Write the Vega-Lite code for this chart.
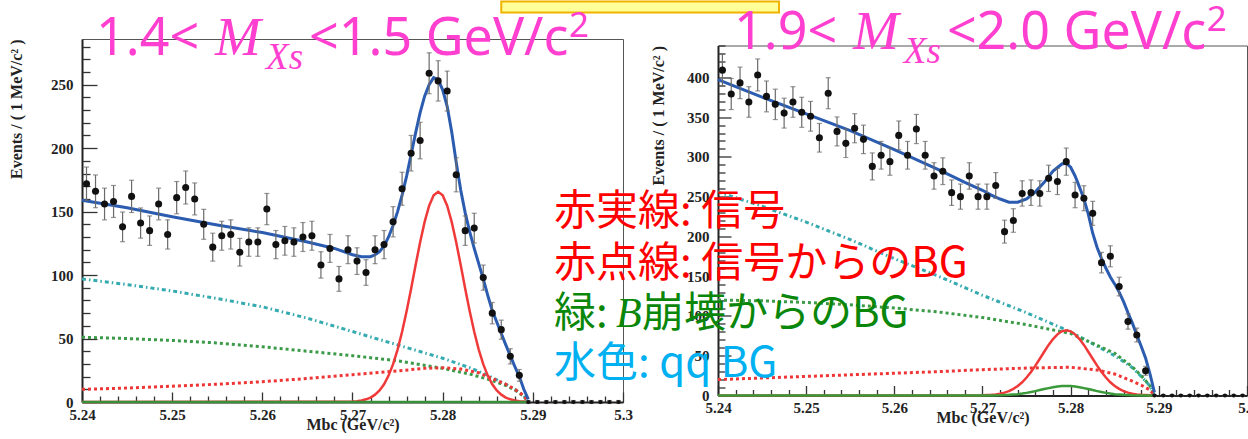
{
"$schema": "https://vega.github.io/schema/vega-lite/v6.json",
"background": "white",
"padding": {"left": 8, "top": 0, "right": 0, "bottom": 0},
"autosize": {"type": "pad"},
"config": {"axis": {"grid": false, "labelOverlap": false}, "view": {"stroke": "#555", "strokeWidth": 1}},
"datasets": {
"LP": [
{"x":5.2405,"v":172,"e":13.1},{"x":5.2415,"v":166,"e":12.9},{"x":5.2425,"v":156,"e":12.5},{"x":5.2435,"v":158,"e":12.6},{"x":5.2445,"v":138,"e":11.7},
{"x":5.2455,"v":162,"e":12.7},{"x":5.2465,"v":141,"e":11.9},{"x":5.2475,"v":135,"e":11.6},{"x":5.2485,"v":156,"e":12.5},{"x":5.2495,"v":132,"e":11.5},
{"x":5.2505,"v":161,"e":12.7},{"x":5.2515,"v":169,"e":13},{"x":5.2525,"v":160,"e":12.6},{"x":5.2535,"v":140,"e":11.8},{"x":5.2545,"v":122,"e":11},
{"x":5.2555,"v":131,"e":11.4},{"x":5.2565,"v":132,"e":11.5},{"x":5.2575,"v":118,"e":10.9},{"x":5.2585,"v":126,"e":11.2},{"x":5.2595,"v":126,"e":11.2},
{"x":5.2605,"v":152,"e":12.3},{"x":5.2615,"v":124,"e":11.1},{"x":5.2625,"v":127,"e":11.3},{"x":5.2635,"v":126,"e":11.2},{"x":5.2645,"v":130,"e":11.4},
{"x":5.2655,"v":131,"e":11.4},{"x":5.2665,"v":108,"e":10.4},{"x":5.2675,"v":121,"e":11},{"x":5.2685,"v":97,"e":9.8},{"x":5.2695,"v":120,"e":11},
{"x":5.2705,"v":111,"e":10.5},{"x":5.2715,"v":102,"e":10.1},{"x":5.2725,"v":120,"e":11},{"x":5.2735,"v":124,"e":11.1},{"x":5.2745,"v":142,"e":11.9},
{"x":5.2755,"v":168,"e":13},{"x":5.2765,"v":196,"e":14},{"x":5.2775,"v":206,"e":14.4},{"x":5.2785,"v":259,"e":16.1},{"x":5.2795,"v":253,"e":15.9},
{"x":5.2805,"v":245,"e":15.7},{"x":5.2815,"v":179,"e":13.4},{"x":5.2825,"v":135,"e":11.6},{"x":5.2835,"v":137,"e":11.7},{"x":5.2845,"v":98,"e":9.9},
{"x":5.2855,"v":70,"e":8.4},{"x":5.2865,"v":57,"e":7.5},{"x":5.2875,"v":36,"e":6},{"x":5.2885,"v":21,"e":4.6},{"x":5.2895,"v":0,"e":1.15},
{"x":5.2905,"v":0,"e":1.15},{"x":5.2915,"v":0,"e":1.15},{"x":5.2925,"v":0,"e":1.15},{"x":5.2935,"v":0,"e":1.15},{"x":5.2945,"v":0,"e":1.15},
{"x":5.2955,"v":0,"e":1.15},{"x":5.2965,"v":0,"e":1.15},{"x":5.2975,"v":0,"e":1.15},{"x":5.2985,"v":0,"e":1.15},{"x":5.2995,"v":0,"e":1.15}
],
"RP": [
{"x":5.2405,"v":409,"e":20.2},{"x":5.2415,"v":379,"e":19.5},{"x":5.2425,"v":393,"e":19.8},{"x":5.2435,"v":369,"e":19.2},{"x":5.2445,"v":403,"e":20.1},
{"x":5.2455,"v":376,"e":19.4},{"x":5.2465,"v":366,"e":19.1},{"x":5.2475,"v":355,"e":18.8},{"x":5.2485,"v":369,"e":19.2},{"x":5.2495,"v":356,"e":18.9},
{"x":5.2505,"v":351,"e":18.7},{"x":5.2515,"v":324,"e":18},{"x":5.2525,"v":380,"e":19.5},{"x":5.2535,"v":332,"e":18.2},{"x":5.2545,"v":317,"e":17.8},
{"x":5.2555,"v":336,"e":18.3},{"x":5.2565,"v":322,"e":17.9},{"x":5.2575,"v":288,"e":17},{"x":5.2585,"v":302,"e":17.4},{"x":5.2595,"v":294,"e":17.1},
{"x":5.2605,"v":327,"e":18.1},{"x":5.2615,"v":302,"e":17.4},{"x":5.2625,"v":335,"e":18.3},{"x":5.2635,"v":302,"e":17.4},{"x":5.2645,"v":276,"e":16.6},
{"x":5.2655,"v":282,"e":16.8},{"x":5.2665,"v":255,"e":16},{"x":5.2675,"v":250,"e":15.8},{"x":5.2685,"v":276,"e":16.6},{"x":5.2695,"v":250,"e":15.8},
{"x":5.2705,"v":250,"e":15.8},{"x":5.2715,"v":264,"e":16.2},{"x":5.2725,"v":206,"e":14.4},{"x":5.2735,"v":220,"e":14.8},{"x":5.2745,"v":254,"e":15.9},
{"x":5.2755,"v":255,"e":16},{"x":5.2765,"v":254,"e":15.9},{"x":5.2775,"v":273,"e":16.5},{"x":5.2785,"v":269,"e":16.4},{"x":5.2795,"v":294,"e":17.1},
{"x":5.2805,"v":252,"e":15.9},{"x":5.2815,"v":248,"e":15.7},{"x":5.2825,"v":229,"e":15.1},{"x":5.2835,"v":167,"e":12.9},{"x":5.2845,"v":175,"e":13.2},
{"x":5.2855,"v":137,"e":11.7},{"x":5.2865,"v":93,"e":9.6},{"x":5.2875,"v":76,"e":8.7},{"x":5.2885,"v":31,"e":5.6},{"x":5.2895,"v":0,"e":1.15},
{"x":5.2905,"v":0,"e":1.15},{"x":5.2915,"v":0,"e":1.15},{"x":5.2925,"v":0,"e":1.15},{"x":5.2935,"v":0,"e":1.15},{"x":5.2945,"v":0,"e":1.15},
{"x":5.2955,"v":0,"e":1.15},{"x":5.2965,"v":0,"e":1.15},{"x":5.2975,"v":0,"e":1.15},{"x":5.2985,"v":0,"e":1.15},{"x":5.2995,"v":0,"e":1.15}
],
"LC": [
{"c":"cy","x":5.24,"v":97},{"c":"cy","x":5.245,"v":92.5},{"c":"cy","x":5.25,"v":87.5},{"c":"cy","x":5.255,"v":81.5},{"c":"cy","x":5.26,"v":75},{"c":"cy","x":5.265,"v":66},{"c":"cy","x":5.27,"v":55.5},{"c":"cy","x":5.275,"v":45},{"c":"cy","x":5.28,"v":34.5},{"c":"cy","x":5.283,"v":27},{"c":"cy","x":5.285,"v":21},{"c":"cy","x":5.287,"v":14},{"c":"cy","x":5.288,"v":10},{"c":"cy","x":5.289,"v":5},{"c":"cy","x":5.2895,"v":0},
{"c":"gd","x":5.24,"v":51},{"c":"gd","x":5.245,"v":50},{"c":"gd","x":5.25,"v":48.5},{"c":"gd","x":5.255,"v":46.5},{"c":"gd","x":5.26,"v":43.5},{"c":"gd","x":5.265,"v":40},{"c":"gd","x":5.27,"v":36.5},{"c":"gd","x":5.275,"v":32.5},{"c":"gd","x":5.28,"v":26.5},{"c":"gd","x":5.283,"v":22},{"c":"gd","x":5.285,"v":18},{"c":"gd","x":5.287,"v":13},{"c":"gd","x":5.288,"v":9.5},{"c":"gd","x":5.289,"v":4.5},{"c":"gd","x":5.2895,"v":0},
{"c":"rd","x":5.24,"v":10},{"c":"rd","x":5.245,"v":11},{"c":"rd","x":5.25,"v":12.5},{"c":"rd","x":5.255,"v":14},{"c":"rd","x":5.26,"v":16},{"c":"rd","x":5.265,"v":18.5},{"c":"rd","x":5.27,"v":21.5},{"c":"rd","x":5.275,"v":24.5},{"c":"rd","x":5.278,"v":26.5},{"c":"rd","x":5.28,"v":27},{"c":"rd","x":5.282,"v":26},{"c":"rd","x":5.284,"v":23},{"c":"rd","x":5.286,"v":17},{"c":"rd","x":5.287,"v":14},{"c":"rd","x":5.288,"v":10},{"c":"rd","x":5.289,"v":5},{"c":"rd","x":5.2895,"v":0},
{"c":"sig","x":5.24,"v":0},{"c":"sig","x":5.2695,"v":0.2},{"c":"sig","x":5.27,"v":0.3},{"c":"sig","x":5.2705,"v":0.6},{"c":"sig","x":5.271,"v":1.2},{"c":"sig","x":5.2715,"v":2.1},{"c":"sig","x":5.272,"v":3.5},{"c":"sig","x":5.2725,"v":5.8},{"c":"sig","x":5.273,"v":9.1},{"c":"sig","x":5.2735,"v":14},{"c":"sig","x":5.274,"v":20.8},{"c":"sig","x":5.2745,"v":29.8},{"c":"sig","x":5.275,"v":41.3},{"c":"sig","x":5.2755,"v":55.3},{"c":"sig","x":5.276,"v":71.5},{"c":"sig","x":5.2765,"v":89.3},{"c":"sig","x":5.277,"v":107.9},{"c":"sig","x":5.2775,"v":125.9},{"c":"sig","x":5.278,"v":141.9},{"c":"sig","x":5.2785,"v":154.6},{"c":"sig","x":5.279,"v":162.8},{"c":"sig","x":5.2795,"v":165.6},{"c":"sig","x":5.28,"v":162.8},{"c":"sig","x":5.2805,"v":154.6},{"c":"sig","x":5.281,"v":141.9},{"c":"sig","x":5.2815,"v":125.9},{"c":"sig","x":5.282,"v":107.9},{"c":"sig","x":5.2825,"v":89.3},{"c":"sig","x":5.283,"v":71.5},{"c":"sig","x":5.2835,"v":55.3},{"c":"sig","x":5.284,"v":41.3},{"c":"sig","x":5.2845,"v":29.8},{"c":"sig","x":5.285,"v":20.8},{"c":"sig","x":5.2855,"v":14},{"c":"sig","x":5.286,"v":9.1},{"c":"sig","x":5.2865,"v":5.8},{"c":"sig","x":5.287,"v":3.5},{"c":"sig","x":5.2875,"v":2.1},{"c":"sig","x":5.288,"v":1.2},{"c":"sig","x":5.2885,"v":0.6},{"c":"sig","x":5.289,"v":0.3},{"c":"sig","x":5.2895,"v":0},
{"c":"gs","x":5.24,"v":0},{"c":"gs","x":5.2895,"v":0},
{"c":"tot","x":5.24,"v":159},{"c":"tot","x":5.245,"v":153},{"c":"tot","x":5.25,"v":146},{"c":"tot","x":5.255,"v":139.5},{"c":"tot","x":5.26,"v":133.5},{"c":"tot","x":5.265,"v":126},{"c":"tot","x":5.268,"v":121},{"c":"tot","x":5.27,"v":116},{"c":"tot","x":5.271,"v":114.5},{"c":"tot","x":5.272,"v":114.5},{"c":"tot","x":5.2725,"v":116},{"c":"tot","x":5.273,"v":118.5},{"c":"tot","x":5.2735,"v":123},{"c":"tot","x":5.274,"v":130},{"c":"tot","x":5.2745,"v":139},{"c":"tot","x":5.275,"v":150},{"c":"tot","x":5.2755,"v":163},{"c":"tot","x":5.276,"v":178},{"c":"tot","x":5.2765,"v":195},{"c":"tot","x":5.277,"v":212},{"c":"tot","x":5.2775,"v":228},{"c":"tot","x":5.278,"v":241},{"c":"tot","x":5.2785,"v":250},{"c":"tot","x":5.279,"v":255.5},{"c":"tot","x":5.2795,"v":254},{"c":"tot","x":5.28,"v":246},{"c":"tot","x":5.2805,"v":233},{"c":"tot","x":5.281,"v":213},{"c":"tot","x":5.2815,"v":189},{"c":"tot","x":5.282,"v":167},{"c":"tot","x":5.2825,"v":149},{"c":"tot","x":5.283,"v":134},{"c":"tot","x":5.2835,"v":121},{"c":"tot","x":5.284,"v":109},{"c":"tot","x":5.2845,"v":97},{"c":"tot","x":5.285,"v":84},{"c":"tot","x":5.2855,"v":72},{"c":"tot","x":5.286,"v":63},{"c":"tot","x":5.2865,"v":54},{"c":"tot","x":5.287,"v":45},{"c":"tot","x":5.2875,"v":36.5},{"c":"tot","x":5.288,"v":28},{"c":"tot","x":5.2885,"v":20},{"c":"tot","x":5.289,"v":10},{"c":"tot","x":5.2895,"v":2}
],
"RC": [
{"c":"cy","x":5.24,"v":256},{"c":"cy","x":5.245,"v":238},{"c":"cy","x":5.25,"v":218},{"c":"cy","x":5.255,"v":196},{"c":"cy","x":5.26,"v":172},{"c":"cy","x":5.265,"v":150},{"c":"cy","x":5.27,"v":126},{"c":"cy","x":5.275,"v":104},{"c":"cy","x":5.28,"v":80},{"c":"cy","x":5.283,"v":62},{"c":"cy","x":5.285,"v":50},{"c":"cy","x":5.287,"v":35},{"c":"cy","x":5.288,"v":24},{"c":"cy","x":5.289,"v":12},{"c":"cy","x":5.2895,"v":0},
{"c":"gd","x":5.24,"v":120},{"c":"gd","x":5.245,"v":119},{"c":"gd","x":5.25,"v":117},{"c":"gd","x":5.255,"v":114},{"c":"gd","x":5.26,"v":110},{"c":"gd","x":5.265,"v":105},{"c":"gd","x":5.27,"v":98},{"c":"gd","x":5.275,"v":89},{"c":"gd","x":5.28,"v":78},{"c":"gd","x":5.283,"v":63},{"c":"gd","x":5.285,"v":53},{"c":"gd","x":5.287,"v":36},{"c":"gd","x":5.288,"v":25},{"c":"gd","x":5.289,"v":12},{"c":"gd","x":5.2895,"v":0},
{"c":"rd","x":5.24,"v":20},{"c":"rd","x":5.245,"v":22},{"c":"rd","x":5.25,"v":24},{"c":"rd","x":5.255,"v":26},{"c":"rd","x":5.26,"v":28},{"c":"rd","x":5.265,"v":30},{"c":"rd","x":5.27,"v":32.5},{"c":"rd","x":5.275,"v":34.5},{"c":"rd","x":5.28,"v":35.5},{"c":"rd","x":5.283,"v":32},{"c":"rd","x":5.285,"v":27},{"c":"rd","x":5.287,"v":18},{"c":"rd","x":5.288,"v":13},{"c":"rd","x":5.289,"v":7},{"c":"rd","x":5.2895,"v":0},
{"c":"sig","x":5.24,"v":0},{"c":"sig","x":5.269,"v":0.1},{"c":"sig","x":5.27,"v":0.25},{"c":"sig","x":5.2705,"v":0.5},{"c":"sig","x":5.271,"v":0.8},{"c":"sig","x":5.2715,"v":1.4},{"c":"sig","x":5.272,"v":2.3},{"c":"sig","x":5.2725,"v":3.6},{"c":"sig","x":5.273,"v":5.5},{"c":"sig","x":5.2735,"v":8.3},{"c":"sig","x":5.274,"v":11.9},{"c":"sig","x":5.2745,"v":16.6},{"c":"sig","x":5.275,"v":22.6},{"c":"sig","x":5.2755,"v":29.5},{"c":"sig","x":5.276,"v":37.6},{"c":"sig","x":5.2765,"v":46.2},{"c":"sig","x":5.277,"v":55},{"c":"sig","x":5.2775,"v":63.6},{"c":"sig","x":5.278,"v":71},{"c":"sig","x":5.2785,"v":76.9},{"c":"sig","x":5.279,"v":80.7},{"c":"sig","x":5.2795,"v":82},{"c":"sig","x":5.28,"v":80.7},{"c":"sig","x":5.2805,"v":76.9},{"c":"sig","x":5.281,"v":71},{"c":"sig","x":5.2815,"v":63.6},{"c":"sig","x":5.282,"v":55},{"c":"sig","x":5.2825,"v":46.2},{"c":"sig","x":5.283,"v":37.6},{"c":"sig","x":5.2835,"v":29.5},{"c":"sig","x":5.284,"v":22.6},{"c":"sig","x":5.2845,"v":16.6},{"c":"sig","x":5.285,"v":11.9},{"c":"sig","x":5.2855,"v":8.3},{"c":"sig","x":5.286,"v":5.5},{"c":"sig","x":5.2865,"v":3.6},{"c":"sig","x":5.287,"v":2.3},{"c":"sig","x":5.2875,"v":1.4},{"c":"sig","x":5.288,"v":0.8},{"c":"sig","x":5.2885,"v":0.5},{"c":"sig","x":5.289,"v":0.25},{"c":"sig","x":5.2895,"v":0},
{"c":"gs","x":5.24,"v":0},{"c":"gs","x":5.271,"v":0.1},{"c":"gs","x":5.272,"v":0.3},{"c":"gs","x":5.273,"v":0.8},{"c":"gs","x":5.274,"v":1.7},{"c":"gs","x":5.2745,"v":2.4},{"c":"gs","x":5.275,"v":3.3},{"c":"gs","x":5.2755,"v":4.3},{"c":"gs","x":5.276,"v":5.5},{"c":"gs","x":5.2765,"v":6.8},{"c":"gs","x":5.277,"v":8.1},{"c":"gs","x":5.2775,"v":9.3},{"c":"gs","x":5.278,"v":10.4},{"c":"gs","x":5.2785,"v":11.3},{"c":"gs","x":5.279,"v":11.8},{"c":"gs","x":5.2795,"v":12},{"c":"gs","x":5.28,"v":11.8},{"c":"gs","x":5.2805,"v":11.3},{"c":"gs","x":5.281,"v":10.4},{"c":"gs","x":5.2815,"v":9.3},{"c":"gs","x":5.282,"v":8.1},{"c":"gs","x":5.2825,"v":6.8},{"c":"gs","x":5.283,"v":5.5},{"c":"gs","x":5.2835,"v":4.3},{"c":"gs","x":5.284,"v":3.3},{"c":"gs","x":5.2845,"v":2.4},{"c":"gs","x":5.285,"v":1.7},{"c":"gs","x":5.286,"v":0.8},{"c":"gs","x":5.287,"v":0.3},{"c":"gs","x":5.288,"v":0.1},{"c":"gs","x":5.2895,"v":0},
{"c":"tot","x":5.24,"v":397},{"c":"tot","x":5.245,"v":375},{"c":"tot","x":5.25,"v":354},{"c":"tot","x":5.255,"v":333},{"c":"tot","x":5.26,"v":309},{"c":"tot","x":5.265,"v":284},{"c":"tot","x":5.268,"v":268},{"c":"tot","x":5.27,"v":258},{"c":"tot","x":5.271,"v":252},{"c":"tot","x":5.272,"v":247},{"c":"tot","x":5.273,"v":243},{"c":"tot","x":5.274,"v":243},{"c":"tot","x":5.275,"v":247},{"c":"tot","x":5.276,"v":256},{"c":"tot","x":5.277,"v":268},{"c":"tot","x":5.278,"v":282},{"c":"tot","x":5.279,"v":291},{"c":"tot","x":5.2795,"v":292},{"c":"tot","x":5.28,"v":287},{"c":"tot","x":5.2805,"v":276},{"c":"tot","x":5.281,"v":262},{"c":"tot","x":5.2815,"v":247},{"c":"tot","x":5.282,"v":228},{"c":"tot","x":5.2825,"v":204},{"c":"tot","x":5.283,"v":186},{"c":"tot","x":5.2835,"v":172},{"c":"tot","x":5.284,"v":160},{"c":"tot","x":5.2845,"v":149},{"c":"tot","x":5.285,"v":140},{"c":"tot","x":5.2855,"v":130},{"c":"tot","x":5.286,"v":118},{"c":"tot","x":5.2865,"v":104},{"c":"tot","x":5.287,"v":91},{"c":"tot","x":5.2875,"v":76},{"c":"tot","x":5.288,"v":62},{"c":"tot","x":5.2885,"v":47},{"c":"tot","x":5.289,"v":27},{"c":"tot","x":5.2895,"v":4}
]
},
"bounds": "flush",
"center": true,
"spacing": 95,
"hconcat": [
{
"width": 541, "height": 363,
"resolve": {"axis": {"x": "independent", "y": "independent"}},
"layer": [
{"data": {"name": "LC"}, "transform": [{"filter": "datum.c === 'cy'"}],
 "mark": {"type": "line", "color": "#35abb0", "strokeWidth": 3, "strokeDash": [4, 3, 1.5, 3]},
 "encoding": {
  "x": {"field": "x", "type": "quantitative", "scale": {"domain": [5.24, 5.3], "nice": false, "zero": false},
   "axis": {"orient": {"expr": "'bottom'"}, "title": "Mbc (GeV/c²)", "values": [5.24,5.25,5.26,5.27,5.28,5.29,5.3], "format": ".3~f",
    "tickSize": -10, "tickColor": "#333", "tickWidth": 1.3, "labelFont": "Liberation Serif", "labelFontWeight": "bold", "labelFontSize": 15, "labelColor": "#222",
    "labelPadding": 15, "labelFlush": false, "labelOverlap": false, "domainColor": "#222", "domainWidth": 2,
    "titleFont": "Liberation Serif", "titleFontWeight": "bold", "titleFontSize": 16, "titleColor": "#222", "titlePadding": -6}},
  "y": {"field": "v", "type": "quantitative", "scale": {"domain": [0, 286], "nice": false},
   "axis": {"orient": {"expr": "'left'"}, "title": "Events / ( 1 MeV/c² )", "values": [0,50,100,150,200,250],
    "tickSize": -15, "tickColor": "#333", "tickWidth": 1.3, "labelFont": "Liberation Serif", "labelFontWeight": "bold", "labelFontSize": 15, "labelColor": "#222",
    "labelPadding": 24, "labelFlush": false, "labelOverlap": false, "domainColor": "#222", "domainWidth": 2,
    "titleFont": "Liberation Serif", "titleFontWeight": "bold", "titleFontSize": 16, "titleColor": "#222", "titleAnchor": "end", "titlePadding": 26}}
 }},
{"data": {"name": "LC"}, "transform": [{"filter": "datum.c === 'gd'"}],
 "mark": {"type": "line", "color": "#3b9b48", "strokeWidth": 3, "strokeDash": [3, 3]},
 "encoding": {
  "x": {"field": "x", "type": "quantitative", "axis": {"orient": {"expr": "'bottom'"}, "title": null, "labels": false, "domain": false,
    "values": [5.242,5.244,5.246,5.248,5.252,5.254,5.256,5.258,5.262,5.264,5.266,5.268,5.272,5.274,5.276,5.278,5.282,5.284,5.286,5.288,5.292,5.294,5.296,5.298],
    "tickSize": -6, "tickColor": "#333", "tickWidth": 1.3}},
  "y": {"field": "v", "type": "quantitative", "axis": {"orient": {"expr": "'left'"}, "title": null, "labels": false, "domain": false,
    "values": [10,20,30,40,60,70,80,90,110,120,130,140,160,170,180,190,210,220,230,240,260,270,280],
    "tickSize": -8, "tickColor": "#333", "tickWidth": 1.3}}}},
{"data": {"name": "LC"}, "transform": [{"filter": "datum.c === 'rd'"}],
 "mark": {"type": "line", "color": "#ef3636", "strokeWidth": 3, "strokeDash": [3, 3]},
 "encoding": {"x": {"field": "x", "type": "quantitative", "axis": null}, "y": {"field": "v", "type": "quantitative", "axis": null}}},
{"data": {"name": "LC"}, "transform": [{"filter": "datum.c === 'sig'"}],
 "mark": {"type": "line", "color": "#f03a3a", "strokeWidth": 2.5},
 "encoding": {"x": {"field": "x", "type": "quantitative", "axis": null}, "y": {"field": "v", "type": "quantitative", "axis": null}}},
{"data": {"name": "LC"}, "transform": [{"filter": "datum.c === 'gs'"}],
 "mark": {"type": "line", "color": "#3a8f3a", "strokeWidth": 2.5},
 "encoding": {"x": {"field": "x", "type": "quantitative", "axis": null}, "y": {"field": "v", "type": "quantitative", "axis": null}}},
{"data": {"name": "LC"}, "transform": [{"filter": "datum.c === 'tot'"}],
 "mark": {"type": "line", "color": "#2b5cb0", "strokeWidth": 3},
 "encoding": {"x": {"field": "x", "type": "quantitative", "axis": null}, "y": {"field": "v", "type": "quantitative", "axis": null}}},
{"data": {"name": "LP"},
 "mark": {"type": "errorbar", "ticks": {"size": 5}, "color": "#6a6a6a", "thickness": 1.2},
 "encoding": {"x": {"field": "x", "type": "quantitative", "axis": null}, "y": {"field": "v", "type": "quantitative", "axis": null}, "yError": {"field": "e"}}},
{"data": {"name": "LP"},
 "mark": {"type": "point", "filled": true, "color": "#111", "opacity": 1},
 "encoding": {"x": {"field": "x", "type": "quantitative", "axis": null}, "y": {"field": "v", "type": "quantitative", "axis": null},
  "size": {"condition": {"test": "datum.v === 0", "value": 18}, "value": 50}}},
{"data": {"values": [{}]},
 "mark": {"type": "rect", "fill": "#ffff99", "stroke": "#f2b200", "strokeWidth": 2},
 "encoding": {"x": {"datum": 5.2865, "type": "quantitative", "axis": null}, "x2": {"datum": 5.3173}, "y": {"datum": 306.8, "type": "quantitative", "axis": null}, "y2": {"datum": 315.5}}},
{"data": {"values": [{}]},
 "mark": {"type": "text", "text": "1.4<", "font": "Noto Sans", "fontSize": 52, "color": "#ff3fcf", "align": "left", "baseline": "alphabetic"},
 "encoding": {"x": {"datum": 5.24155, "type": "quantitative", "axis": null}, "y": {"datum": 273.7, "type": "quantitative", "axis": null}}},
{"data": {"values": [{}]},
 "mark": {"type": "text", "text": "M", "font": "Liberation Serif", "fontStyle": "italic", "fontSize": 55, "color": "#ff3fcf", "align": "left", "baseline": "alphabetic"},
 "encoding": {"x": {"datum": 5.25475, "type": "quantitative", "axis": null}, "y": {"datum": 273.7, "type": "quantitative", "axis": null}}},
{"data": {"values": [{}]},
 "mark": {"type": "text", "text": "Xs", "font": "Liberation Serif", "fontStyle": "italic", "fontSize": 37, "color": "#ff3fcf", "align": "left", "baseline": "alphabetic"},
 "encoding": {"x": {"datum": 5.26041, "type": "quantitative", "axis": null}, "y": {"datum": 262.6, "type": "quantitative", "axis": null}}},
{"data": {"values": [{}]},
 "mark": {"type": "text", "text": "<1.5 GeV/c", "font": "Noto Sans", "fontSize": 52, "color": "#ff3fcf", "align": "left", "baseline": "alphabetic"},
 "encoding": {"x": {"datum": 5.26518, "type": "quantitative", "axis": null}, "y": {"datum": 273.7, "type": "quantitative", "axis": null}}},
{"data": {"values": [{}]},
 "mark": {"type": "text", "text": "2", "font": "Noto Sans", "fontSize": 35, "color": "#ff3fcf", "align": "left", "baseline": "alphabetic"},
 "encoding": {"x": {"datum": 5.29402, "type": "quantitative", "axis": null}, "y": {"datum": 287.9, "type": "quantitative", "axis": null}}}
]
},
{
"width": 529, "height": 350,
"resolve": {"axis": {"x": "independent", "y": "independent"}},
"layer": [
{"data": {"name": "RC"}, "transform": [{"filter": "datum.c === 'cy'"}],
 "mark": {"type": "line", "color": "#35abb0", "strokeWidth": 3, "strokeDash": [4, 3, 1.5, 3]},
 "encoding": {
  "x": {"field": "x", "type": "quantitative", "scale": {"domain": [5.24, 5.3], "nice": false, "zero": false},
   "axis": {"orient": {"expr": "'bottom'"}, "title": "Mbc (GeV/c²)", "values": [5.24,5.25,5.26,5.27,5.28,5.29,5.3], "format": ".3~f",
    "tickSize": -10, "tickColor": "#333", "tickWidth": 1.3, "labelFont": "Liberation Serif", "labelFontWeight": "bold", "labelFontSize": 15, "labelColor": "#222",
    "labelPadding": 15, "labelFlush": false, "labelOverlap": false, "domainColor": "#222", "domainWidth": 2,
    "titleFont": "Liberation Serif", "titleFontWeight": "bold", "titleFontSize": 16, "titleColor": "#222", "titlePadding": -6}},
  "y": {"field": "v", "type": "quantitative", "scale": {"domain": [0, 440], "nice": false},
   "axis": {"orient": {"expr": "'left'"}, "title": "Events / ( 1 MeV/c² )", "values": [0,50,100,150,200,250,300,350,400],
    "tickSize": -13, "tickColor": "#333", "tickWidth": 1.3, "labelFont": "Liberation Serif", "labelFontWeight": "bold", "labelFontSize": 15, "labelColor": "#222",
    "labelPadding": 22, "labelFlush": false, "labelOverlap": false, "domainColor": "#222", "domainWidth": 2,
    "titleFont": "Liberation Serif", "titleFontWeight": "bold", "titleFontSize": 16, "titleColor": "#222", "titleAnchor": "end", "titlePadding": 20}}
 }},
{"data": {"name": "RC"}, "transform": [{"filter": "datum.c === 'gd'"}],
 "mark": {"type": "line", "color": "#3b9b48", "strokeWidth": 3, "strokeDash": [3, 3]},
 "encoding": {
  "x": {"field": "x", "type": "quantitative", "axis": {"orient": {"expr": "'bottom'"}, "title": null, "labels": false, "domain": false,
    "values": [5.242,5.244,5.246,5.248,5.252,5.254,5.256,5.258,5.262,5.264,5.266,5.268,5.272,5.274,5.276,5.278,5.282,5.284,5.286,5.288,5.292,5.294,5.296,5.298],
    "tickSize": -6, "tickColor": "#333", "tickWidth": 1.3}},
  "y": {"field": "v", "type": "quantitative", "axis": {"orient": {"expr": "'left'"}, "title": null, "labels": false, "domain": false,
    "values": [10,20,30,40,60,70,80,90,110,120,130,140,160,170,180,190,210,220,230,240,260,270,280,290,310,320,330,340,360,370,380,390,410,420,430,440],
    "tickSize": -7, "tickColor": "#333", "tickWidth": 1.3}}}},
{"data": {"name": "RC"}, "transform": [{"filter": "datum.c === 'rd'"}],
 "mark": {"type": "line", "color": "#ef3636", "strokeWidth": 3, "strokeDash": [3, 3]},
 "encoding": {"x": {"field": "x", "type": "quantitative", "axis": null}, "y": {"field": "v", "type": "quantitative", "axis": null}}},
{"data": {"name": "RC"}, "transform": [{"filter": "datum.c === 'sig'"}],
 "mark": {"type": "line", "color": "#f03a3a", "strokeWidth": 2.5},
 "encoding": {"x": {"field": "x", "type": "quantitative", "axis": null}, "y": {"field": "v", "type": "quantitative", "axis": null}}},
{"data": {"name": "RC"}, "transform": [{"filter": "datum.c === 'gs'"}],
 "mark": {"type": "line", "color": "#3a9a3a", "strokeWidth": 2.5},
 "encoding": {"x": {"field": "x", "type": "quantitative", "axis": null}, "y": {"field": "v", "type": "quantitative", "axis": null}}},
{"data": {"name": "RC"}, "transform": [{"filter": "datum.c === 'tot'"}],
 "mark": {"type": "line", "color": "#2b5cb0", "strokeWidth": 3},
 "encoding": {"x": {"field": "x", "type": "quantitative", "axis": null}, "y": {"field": "v", "type": "quantitative", "axis": null}}},
{"data": {"name": "RP"},
 "mark": {"type": "errorbar", "ticks": {"size": 5}, "color": "#6a6a6a", "thickness": 1.2},
 "encoding": {"x": {"field": "x", "type": "quantitative", "axis": null}, "y": {"field": "v", "type": "quantitative", "axis": null}, "yError": {"field": "e"}}},
{"data": {"name": "RP"},
 "mark": {"type": "point", "filled": true, "color": "#111", "opacity": 1},
 "encoding": {"x": {"field": "x", "type": "quantitative", "axis": null}, "y": {"field": "v", "type": "quantitative", "axis": null},
  "size": {"condition": {"test": "datum.v === 0", "value": 18}, "value": 50}}},
{"data": {"values": [{}]},
 "mark": {"type": "text", "text": "1.9<", "font": "Noto Sans", "fontSize": 52, "color": "#ff3fcf", "align": "left", "baseline": "alphabetic"},
 "encoding": {"x": {"datum": 5.24181, "type": "quantitative", "axis": null}, "y": {"datum": 435.3, "type": "quantitative", "axis": null}}},
{"data": {"values": [{}]},
 "mark": {"type": "text", "text": "M", "font": "Liberation Serif", "fontStyle": "italic", "fontSize": 55, "color": "#ff3fcf", "align": "left", "baseline": "alphabetic"},
 "encoding": {"x": {"datum": 5.2553, "type": "quantitative", "axis": null}, "y": {"datum": 435.3, "type": "quantitative", "axis": null}}},
{"data": {"values": [{}]},
 "mark": {"type": "text", "text": "Xs", "font": "Liberation Serif", "fontStyle": "italic", "fontSize": 37, "color": "#ff3fcf", "align": "left", "baseline": "alphabetic"},
 "encoding": {"x": {"datum": 5.26108, "type": "quantitative", "axis": null}, "y": {"datum": 417.7, "type": "quantitative", "axis": null}}},
{"data": {"values": [{}]},
 "mark": {"type": "text", "text": "<2.0 GeV/c", "font": "Noto Sans", "fontSize": 52, "color": "#ff3fcf", "align": "left", "baseline": "alphabetic"},
 "encoding": {"x": {"datum": 5.26596, "type": "quantitative", "axis": null}, "y": {"datum": 435.3, "type": "quantitative", "axis": null}}},
{"data": {"values": [{}]},
 "mark": {"type": "text", "text": "2", "font": "Noto Sans", "fontSize": 35, "color": "#ff3fcf", "align": "left", "baseline": "alphabetic"},
 "encoding": {"x": {"datum": 5.29544, "type": "quantitative", "axis": null}, "y": {"datum": 458, "type": "quantitative", "axis": null}}},
{"data": {"values": [{}]},
 "mark": {"type": "text", "text": "赤実線: 信号", "font": "Noto Sans CJK JP", "fontSize": 42, "color": "#ff0000", "align": "left", "baseline": "alphabetic"},
 "encoding": {"x": {"datum": 5.22141, "type": "quantitative", "axis": null}, "y": {"datum": 214.5, "type": "quantitative", "axis": null}}},
{"data": {"values": [{}]},
 "mark": {"type": "text", "text": "赤点線: 信号からのBG", "font": "Noto Sans CJK JP", "fontSize": 42, "color": "#ff0000", "align": "left", "baseline": "alphabetic"},
 "encoding": {"x": {"datum": 5.22141, "type": "quantitative", "axis": null}, "y": {"datum": 148.9, "type": "quantitative", "axis": null}}},
{"data": {"values": [{}]},
 "mark": {"type": "text", "text": "緑:", "font": "Noto Sans CJK JP", "fontSize": 42, "color": "#0a870a", "align": "left", "baseline": "alphabetic"},
 "encoding": {"x": {"datum": 5.22141, "type": "quantitative", "axis": null}, "y": {"datum": 85.8, "type": "quantitative", "axis": null}}},
{"data": {"values": [{}]},
 "mark": {"type": "text", "text": "B", "font": "Liberation Serif", "fontStyle": "italic", "fontSize": 42, "color": "#0a870a", "align": "left", "baseline": "alphabetic"},
 "encoding": {"x": {"datum": 5.22844, "type": "quantitative", "axis": null}, "y": {"datum": 85.8, "type": "quantitative", "axis": null}}},
{"data": {"values": [{}]},
 "mark": {"type": "text", "text": "崩壊からのBG", "font": "Noto Sans CJK JP", "fontSize": 42, "color": "#0a870a", "align": "left", "baseline": "alphabetic"},
 "encoding": {"x": {"datum": 5.23138, "type": "quantitative", "axis": null}, "y": {"datum": 85.8, "type": "quantitative", "axis": null}}},
{"data": {"values": [{}]},
 "mark": {"type": "text", "text": "水色: qq BG", "font": "Noto Sans CJK JP", "fontSize": 42, "color": "#00b0f0", "align": "left", "baseline": "alphabetic"},
 "encoding": {"x": {"datum": 5.22141, "type": "quantitative", "axis": null}, "y": {"datum": 22.7, "type": "quantitative", "axis": null}}}
]
}
]
}
